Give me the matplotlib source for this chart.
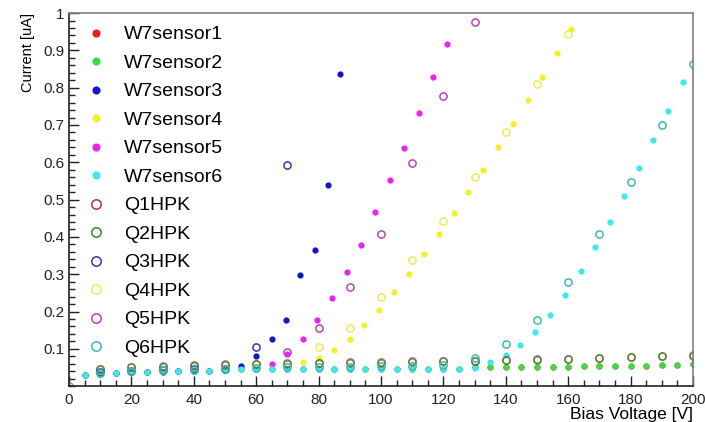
import matplotlib
matplotlib.use("Agg")
import matplotlib.pyplot as plt
from matplotlib.ticker import MultipleLocator

# =============================
# DATA: IV scans, W7 sensors (filled) and HPK references (open)
# =============================
v_low = [5, 10, 15, 20, 25, 30, 35, 40, 45, 50]
i_low = [0.030, 0.032, 0.035, 0.037, 0.037, 0.039, 0.041, 0.041, 0.041, 0.044]

w7s1_v = [5, 10, 15, 20, 25, 30, 35, 40, 45, 50, 55, 60, 65, 70, 75, 80, 85, 90, 95, 100,
          105, 110, 115, 120, 125, 130, 135, 140, 145, 150, 155, 160, 165, 170, 175, 180,
          185, 190, 195, 200]
w7s1_i = [0.030, 0.032, 0.035, 0.037, 0.037, 0.039, 0.041, 0.041, 0.041, 0.044, 0.045, 0.045,
          0.046, 0.046, 0.046, 0.046, 0.046, 0.045, 0.045, 0.046, 0.046, 0.046, 0.046, 0.047,
          0.047, 0.050, 0.050, 0.050, 0.050, 0.051, 0.051, 0.052, 0.053, 0.053, 0.053, 0.054,
          0.055, 0.056, 0.057, 0.058]

w7s2_v = w7s1_v
w7s2_i = w7s1_i

w7s3_v = v_low + [55, 60, 65, 69.7, 73.9, 78.8, 82.9, 86.8]
w7s3_i = i_low + [0.054, 0.081, 0.125, 0.176, 0.299, 0.364, 0.539, 0.837]

w7s4_v = [75, 80, 85, 90, 94.5, 99.5, 104.2, 109.0, 113.7, 118.5, 123.3, 128.0, 132.8, 137.4,
          142.3, 147.0, 151.6, 156.3, 161.0]
w7s4_i = [0.066, 0.075, 0.096, 0.125, 0.163, 0.203, 0.251, 0.300, 0.353, 0.407, 0.463, 0.520,
          0.579, 0.641, 0.704, 0.766, 0.828, 0.894, 0.957]

w7s5_v = [65, 70, 75, 79.5, 84.3, 89.0, 93.7, 98.2, 102.9, 107.5, 112.1, 116.7, 121.2]
w7s5_i = [0.060, 0.085, 0.125, 0.176, 0.236, 0.307, 0.379, 0.466, 0.552, 0.639, 0.731, 0.828,
          0.916]

w7s6_v = [5, 10, 15, 20, 25, 30, 35, 40, 45, 50, 55, 60, 65, 70, 75, 80, 85, 90, 95, 100,
          105, 110, 115, 120, 125, 130, 135, 140, 144.7, 149.5, 154.3, 159.1, 164.0, 168.6,
          173.4, 177.9, 182.8, 187.3, 192.1, 196.7]
w7s6_i = [0.030, 0.032, 0.035, 0.037, 0.037, 0.039, 0.041, 0.041, 0.041, 0.044, 0.045, 0.045,
          0.046, 0.046, 0.046, 0.046, 0.046, 0.045, 0.045, 0.046, 0.046, 0.046, 0.046, 0.047,
          0.047, 0.049, 0.064, 0.083, 0.110, 0.146, 0.190, 0.245, 0.309, 0.373, 0.439, 0.510,
          0.584, 0.661, 0.737, 0.814]

q_v = [10, 20, 30, 40, 50, 60, 70, 80, 90, 100, 110, 120, 130, 140, 150, 160, 170, 180, 190, 200]
q1_i = [0.047, 0.052, 0.053, 0.056, 0.058, 0.060, 0.061, 0.062, 0.064, 0.064, 0.067, 0.068,
        0.068, 0.070, 0.072, 0.074, 0.076, 0.078, 0.081, 0.084]
q2_i = [0.046, 0.051, 0.052, 0.055, 0.057, 0.059, 0.060, 0.061, 0.063, 0.063, 0.066, 0.067,
        0.067, 0.069, 0.071, 0.073, 0.075, 0.077, 0.080, 0.081]

q3_v = [10, 20, 30, 40, 50, 60, 70]
q3_i = [0.037, 0.040, 0.042, 0.045, 0.047, 0.104, 0.592]

q4_v = [80, 90, 100, 110, 120, 130, 140, 150, 160]
q4_i = [0.104, 0.156, 0.238, 0.337, 0.442, 0.561, 0.681, 0.810, 0.944]

q5_v = [70, 80, 90, 100, 110, 120, 130]
q5_i = [0.092, 0.157, 0.267, 0.407, 0.597, 0.779, 0.977]

q6_v = [0, 10, 20, 30, 40, 50, 60, 70, 80, 90, 100, 110, 120, 130, 140, 150, 160, 170, 180,
        190, 200]
q6_i = [0.0, 0.036, 0.040, 0.042, 0.044, 0.046, 0.048, 0.050, 0.052, 0.052, 0.053, 0.055,
        0.056, 0.076, 0.112, 0.177, 0.278, 0.408, 0.547, 0.701, 0.864]

filled = [
    ("W7sensor1", w7s1_v, w7s1_i, "#ee1c1c"),
    ("W7sensor2", w7s2_v, w7s2_i, "#3ddc3d"),
    ("W7sensor3", w7s3_v, w7s3_i, "#1414cc"),
    ("W7sensor4", w7s4_v, w7s4_i, "#f2f030"),
    ("W7sensor5", w7s5_v, w7s5_i, "#ee22ee"),
    ("W7sensor6", w7s6_v, w7s6_i, "#3ceaea"),
]
# Q1/Q2 sit on top of each other, a little transparency lets both show through
hollow = [
    ("Q1HPK", q_v, q1_i, "#b83030", 0.75),
    ("Q2HPK", q_v, q2_i, "#2f8f2f", 0.75),
    ("Q3HPK", q3_v, q3_i, "#3838a8", 1.0),
    ("Q4HPK", q4_v, q4_i, "#eeea5a", 1.0),
    ("Q5HPK", q5_v, q5_i, "#c040c0", 1.0),
    ("Q6HPK", q6_v, q6_i, "#40b8b8", 1.0),
]

# =============================
# PLOT
# =============================
plt.rcParams["font.family"] = ["Liberation Sans", "DejaVu Sans"]

fig = plt.figure(figsize=(7.05, 4.22), dpi=100)
ax = fig.add_axes([0.0979, 0.085, 0.8851, 0.884])

for label, v, i, c in filled:
    ax.plot(v, i, linestyle="none", marker="o", ms=4.5, mfc=c, mec=c, mew=0, label=label)
for label, v, i, c, a in hollow:
    ax.plot(v, i, linestyle="none", marker="o", ms=5.2, mfc="none", mec=c, mew=1.1,
            alpha=a, label=label)

ax.set_xlim(0, 200)
ax.set_ylim(0, 1)

ax.xaxis.set_major_locator(MultipleLocator(20))
ax.xaxis.set_minor_locator(MultipleLocator(5))
ax.yaxis.set_minor_locator(MultipleLocator(0.02))
ax.set_yticks([0.1, 0.2, 0.3, 0.4, 0.5, 0.6, 0.7, 0.8, 0.9, 1.0])
ax.set_yticklabels(["0.1", "0.2", "0.3", "0.4", "0.5", "0.6", "0.7", "0.8", "0.9", "1"])

ax.tick_params(which="both", direction="in", top=False, right=False, colors="#222222",
               labelsize=11, width=1.0)
ax.tick_params(axis="x", which="major", length=7, pad=5)
ax.tick_params(axis="x", which="minor", length=4)
ax.tick_params(axis="y", which="major", length=7, pad=3)
ax.tick_params(axis="y", which="minor", length=4.5)

for side in ["left", "bottom"]:
    ax.spines[side].set_color("#222222")
    ax.spines[side].set_linewidth(1.2)
for side in ["top", "right"]:
    ax.spines[side].set_color("#808080")
    ax.spines[side].set_linewidth(1.2)

ax.set_xlabel("Bias Voltage [V]", loc="right", fontsize=12.5, labelpad=0)
ax.set_ylabel("Current [uA]", loc="top", fontsize=10.5, labelpad=6)

leg = ax.legend(loc="upper left", bbox_to_anchor=(0.027, 0.966), frameon=False, fontsize=14,
                handlelength=1.0, handletextpad=0.95, labelspacing=0.56, borderpad=0,
                borderaxespad=0, markerscale=1.3)
for h in leg.legend_handles:
    h.set_alpha(1.0)

fig.savefig("out.png", dpi=100)
